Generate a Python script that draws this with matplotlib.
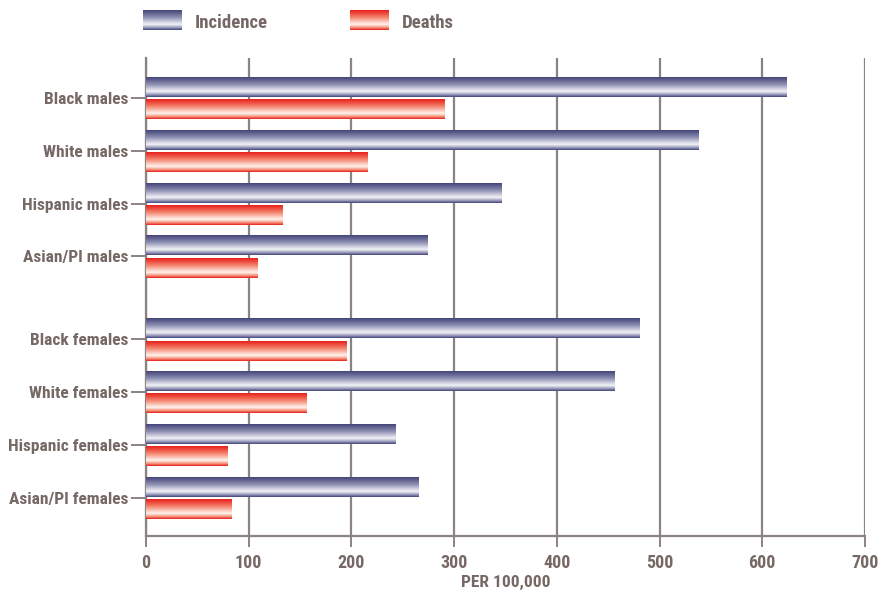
import matplotlib
matplotlib.use("Agg")
import matplotlib.pyplot as plt
import numpy as np
from matplotlib.colors import LinearSegmentedColormap

plt.rcParams['font.family'] = ['Roboto Condensed', 'PT Sans Narrow', 'DejaVu Sans']
plt.rcParams['font.weight'] = 'bold'
plt.rcParams['axes.labelweight'] = 'bold'

# data (rate per 100,000)
groups = ["Black males", "White males", "Hispanic males", "Asian/PI males",
          "Black females", "White females", "Hispanic females", "Asian/PI females"]
incidence = [624, 538, 346, 274, 480, 456, 243, 265]
deaths = [291, 216, 133, 109, 195, 156, 79, 83]
xticks = [0, 100, 200, 300, 400, 500, 600, 700]

TXT = "#766864"
GRID = "#8c8280"

# vertical gradients: dark at edges, pale band a bit below middle
inc_cmap = LinearSegmentedColormap.from_list(
    "inc", [(0, "#43467a"), (0.35, "#8a8cb0"), (0.72, "#f4f4f8"), (0.88, "#9a9cbc"), (1, "#43467a")])
dth_cmap = LinearSegmentedColormap.from_list(
    "dth", [(0, "#e8201a"), (0.35, "#f4806a"), (0.72, "#fff4ee"), (0.88, "#f6957e"), (1, "#e8201a")])
grad = np.linspace(0, 1, 64).reshape(-1, 1)


def fill_gradient(ax, bars, cmap):
    for b in bars:
        x0, y0 = b.get_x(), b.get_y()
        w, h = b.get_width(), b.get_height()
        # y axis is inverted, so top of the bar is y0
        ax.imshow(grad, cmap=cmap, aspect='auto', extent=[x0, x0 + w, y0 + h, y0],
                  interpolation='bilinear', zorder=3)
        b.set_visible(False)


fig = plt.figure(figsize=(8.94, 5.94), dpi=100)
ax = fig.add_axes([146 / 894, 58 / 594, (865 - 146) / 894, (536 - 58) / 594])

# rows: males block, gap, females block
pos = np.array([0, 1, 2, 3, 4.57, 5.57, 6.57, 7.57])
bh = 0.37
b1 = ax.barh(pos - 0.205, incidence, height=bh)
b2 = ax.barh(pos + 0.215, deaths, height=bh)
fill_gradient(ax, b1, inc_cmap)
fill_gradient(ax, b2, dth_cmap)

ax.set_xlim(0, 700)
ax.set_ylim(8.29, -0.755)
ax.set_xticks(xticks)
ax.set_yticks(pos)
ax.set_yticklabels(groups, va='center_baseline')
ax.xaxis.grid(True, color=GRID, linewidth=1.6, zorder=0)
ax.set_axisbelow(True)

for s in ["top", "right"]:
    ax.spines[s].set_visible(False)
for s in ["left", "bottom"]:
    ax.spines[s].set_color(GRID)
    ax.spines[s].set_linewidth(1.6)
ax.tick_params(axis='y', length=11, width=1.4, color=GRID, labelcolor=TXT, labelsize=12.5, pad=2)
ax.tick_params(axis='x', length=8, width=1.4, color=GRID, labelcolor=TXT, labelsize=13, pad=5)
ax.set_xlabel("PER 100,000", color=TXT, fontsize=12.5, labelpad=2)

# legend with gradient swatches
for x, cmap, label in [(143, inc_cmap, "Incidence"), (350, dth_cmap, "Deaths")]:
    lax = fig.add_axes([x / 894, (594 - 30) / 594, 39 / 894, 20 / 594])
    lax.imshow(grad, cmap=cmap, aspect='auto', interpolation='bilinear')
    lax.axis('off')
    fig.text((x + 52) / 894, (594 - 21) / 594, label, color=TXT, fontsize=13.5,
             va='center_baseline', ha='left')

fig.savefig("out.png", dpi=100)
